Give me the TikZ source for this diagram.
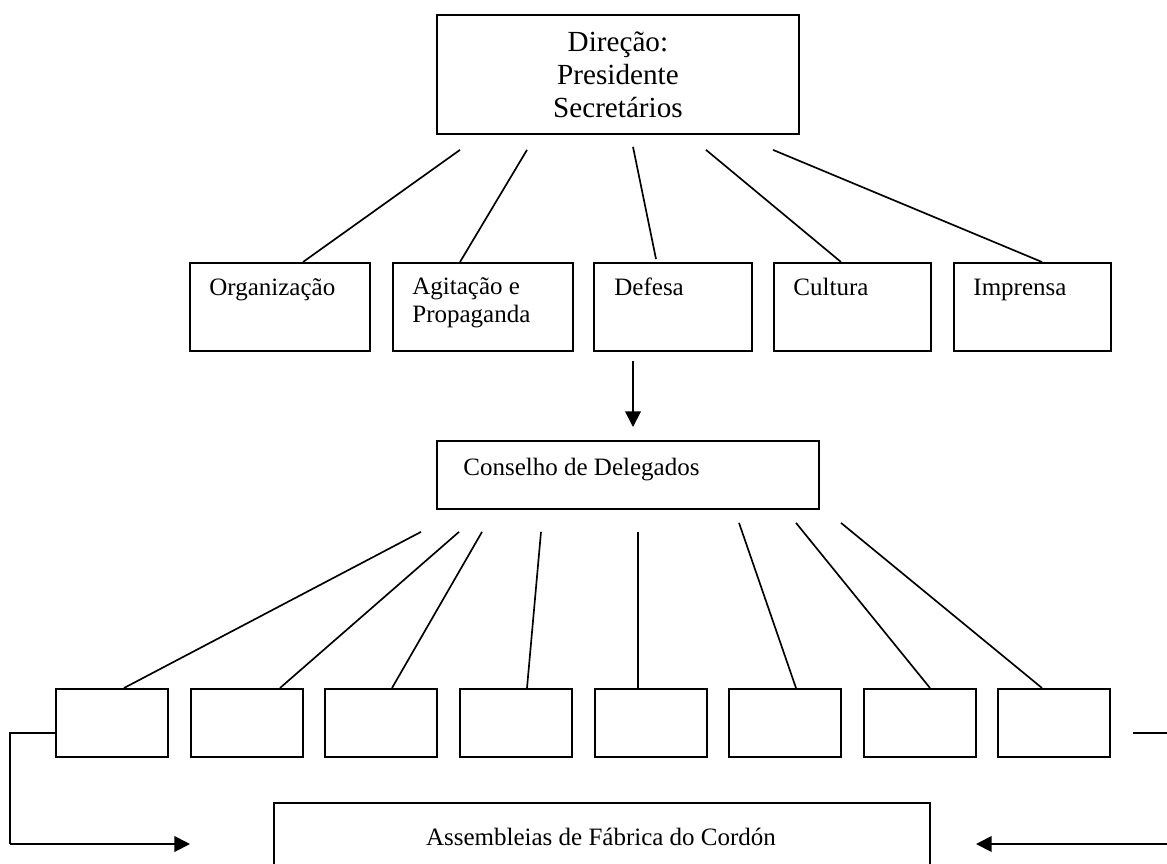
\documentclass[tikz,border=0pt]{standalone}
\usepackage{fontspec}
\setmainfont{Liberation Serif}
\usetikzlibrary{calc,arrows.meta}
\newlength\pxu
\setlength\pxu{0.48pt}
\begin{document}
\begin{tikzpicture}[x=0.48pt,y=-0.48pt,
  boxshape/.style={draw, line width=0.9pt, inner sep=0pt, anchor=north west},
  secbox/.style={boxshape, minimum height=88*\pxu},
  cellbox/.style={boxshape, minimum width=112*\pxu, minimum height=68*\pxu},
  lbl/.style={font=\fontsize{12}{13}\selectfont, inner sep=0pt, anchor=base west, align=left},
  conn/.style={line width=0.8pt},
  arr/.style={line width=0.9pt, -{Triangle[length=7.5pt,width=7.5pt]}},
]
\useasboundingbox (0,0) rectangle (1167,863);
\clip (0,0) rectangle (1167,863);

% top box
\node[boxshape, minimum width=362*\pxu, minimum height=119*\pxu, align=center,
      font=\fontsize{14}{15.84}\selectfont] (dir) at (436,14) {Direção:\\Presidente\\Secretários};

% second row
\node[secbox, minimum width=180*\pxu] (org) at (189,262) {};
\node[secbox, minimum width=180*\pxu] (agi) at (392,262) {};
\node[secbox, minimum width=158*\pxu] (def) at (593,262) {};
\node[secbox, minimum width=157*\pxu] (cul) at (773,262) {};
\node[secbox, minimum width=157*\pxu] (imp) at (953,262) {};
\node[lbl] (torg) at ($(org.north west)+(20,33)$) {Organização};
\node[lbl] (tagi) at ($(agi.north west)+(20,60)$) {Agitação e\\Propaganda};
\node[lbl] (tdef) at ($(def.north west)+(21,33)$) {Defesa};
\node[lbl] (tcul) at ($(cul.north west)+(20,33)$) {Cultura};
\node[lbl] (timp) at ($(imp.north west)+(20,33)$) {Imprensa};

% lines from top box
\draw[conn] ($(dir.south west)+(24,15)$) -- ($(org.north west)+(114,0)$);
\draw[conn] ($(dir.south west)+(91,15)$) -- ($(agi.north west)+(68,0)$);
\draw[conn] ($(dir.south west)+(197,12)$) -- ($(def.north west)+(63,-3)$);
\draw[conn] ($(dir.south west)+(270,15)$) -- ($(cul.north west)+(68,0)$);
\draw[conn] ($(dir.south west)+(337,15)$) -- ($(imp.north west)+(89,0)$);

% council
\node[boxshape, minimum width=382*\pxu, minimum height=68*\pxu] (cons) at (436,440) {};
\node[lbl] (tcons) at ($(cons.north west)+(27,35)$) {Conselho de Delegados};
\coordinate (astart) at ($(def.south west)+(40,9)$);
\coordinate (aend) at ($(cons.north west)+(197,-13)$);
\draw[arr] (astart) -- (aend);

% bottom row
\foreach \i/\x in {1/55,2/190,3/324,4/459,5/594,6/728,7/863,8/997}{
  \node[cellbox] (b\i) at (\x,688) {};
}
\foreach \i/\sx/\sy/\ex in {1/-15/22/69,2/23/22/90,3/46/22/68,4/105/22/68,5/202/22/44,6/303/13/68,7/360/13/67,8/405/13/45}{
  \draw[conn] ($(cons.south west)+(\sx,\sy)$) -- ($(b\i.north west)+(\ex,0)$);
}

% assemblies
\node[boxshape, minimum width=656*\pxu, minimum height=100*\pxu] (asm) at (273,802) {};
\node[font=\fontsize{12}{13}\selectfont, inner sep=0pt, anchor=base] (tasm) at ($(asm.north west)+(328,43)$) {Assembleias de Fábrica do Cordón};

% side connectors
\coordinate (lc1) at (10,733);
\coordinate (lc2) at (10,844);
\coordinate (ltip) at (190,844);
\draw[conn] ($(b1.north west)+(0,45)$) -- (lc1) -- (lc2);
\draw[arr] (lc2) -- (ltip);
\coordinate (rs1) at (1133,733);
\coordinate (rs2) at (1167,733);
\draw[conn] (rs1) -- (rs2);
\coordinate (rtail) at (1167,844);
\coordinate (rtip) at (976,844);
\draw[arr] (rtail) -- (rtip);
\end{tikzpicture}
\end{document}
